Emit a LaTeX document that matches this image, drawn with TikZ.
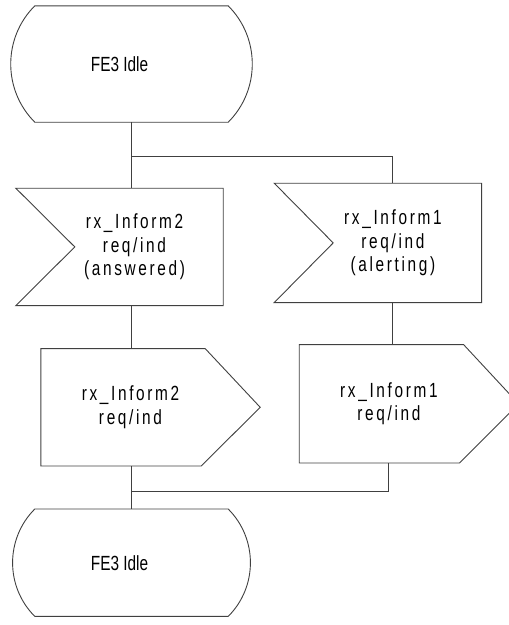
\documentclass[tikz,border=0pt]{standalone}
\usepackage{fontspec}
\usepackage{tikz}
\usetikzlibrary{positioning}
\newfontfamily\statefont[FakeStretch=0.75]{Liberation Sans}
\newfontfamily\signalfont[FakeStretch=0.75,LetterSpace=13]{Liberation Sans}
\tikzset{
    outline/.style={draw=black!75, line width=0.9pt},
    link/.style={draw=black!75, line width=0.9pt},
    statebox/.style={inner sep=0pt, minimum width=217pt, minimum height=116pt,
        font=\statefont\fontsize{20.5pt}{23.5pt}\selectfont,
        append after command={\pgfextra{\draw[outline] ([xshift=24pt]\tikzlastnode.north west) -- (\tikzlastnode.north east)
            to[bend left=45] (\tikzlastnode.south east) -- ([xshift=24pt]\tikzlastnode.south west)
            to[bend left=45] ([xshift=24pt]\tikzlastnode.north west);}}},
    inbox/.style={inner sep=0pt, minimum width=177pt, minimum height=117pt, align=center,
        font=\signalfont\fontsize{20.5pt}{23.5pt}\selectfont,
        append after command={\pgfextra{\draw[outline] ([xshift=-30pt]\tikzlastnode.north west) -- (\tikzlastnode.north east)
            -- (\tikzlastnode.south east) -- ([xshift=-30pt]\tikzlastnode.south west)
            -- ([xshift=29pt]\tikzlastnode.west) -- cycle;}}},
    outbox/.style={inner sep=0pt, minimum width=179pt, minimum height=117pt, align=center,
        font=\signalfont\fontsize{20.5pt}{23.5pt}\selectfont,
        append after command={\pgfextra{\draw[outline] (\tikzlastnode.north west) -- ([xshift=-15pt]\tikzlastnode.north east)
            -- ([xshift=40pt]\tikzlastnode.east) -- ([xshift=-19pt]\tikzlastnode.south east)
            -- (\tikzlastnode.south west) -- cycle;}}}
}
\begin{document}
\begin{tikzpicture}[x=1pt, y=1pt]
    \useasboundingbox (0,0) rectangle (509,-625);
    \node (idle1) [statebox] at (119.5,-64) {FE3 Idle};
    \node (rxin2) [inbox, below=66pt of idle1, xshift=15pt] {rx\_Inform2\\req/ind\\(answered)};
    \node (rxin1) [inbox, minimum height=119pt, right=81pt of rxin2, yshift=4pt] {rx\_Inform1\\req/ind\\(alerting)};
    \node (rxout2) [outbox, below=43pt of rxin2, xshift=-4pt] {rx\_Inform2\\req/ind};
    \node (rxout1) [outbox, minimum height=118pt, below=42pt of rxin1, xshift=-4pt] {rx\_Inform1\\req/ind};
    \node (idle2) [statebox, minimum height=107pt, below=43pt of rxout2, xshift=-11pt] {FE3 Idle};

    \coordinate (split) at (131,-156);
    \coordinate (merge) at (131,-491);

    \draw[link] (split |- idle1.south) -- (split) -| (rxin1.north);
    \draw[link] (split) -- (split |- rxin2.north);
    \draw[link] (split |- rxin2.south) -- (split |- rxout2.north);
    \draw[link] (rxin1.south) -- (rxin1.south |- rxout1.north);
    \draw[link] (rxout1.south) |- (merge);
    \draw[link] (split |- rxout2.south) -- (split |- idle2.north);
\end{tikzpicture}
\end{document}
